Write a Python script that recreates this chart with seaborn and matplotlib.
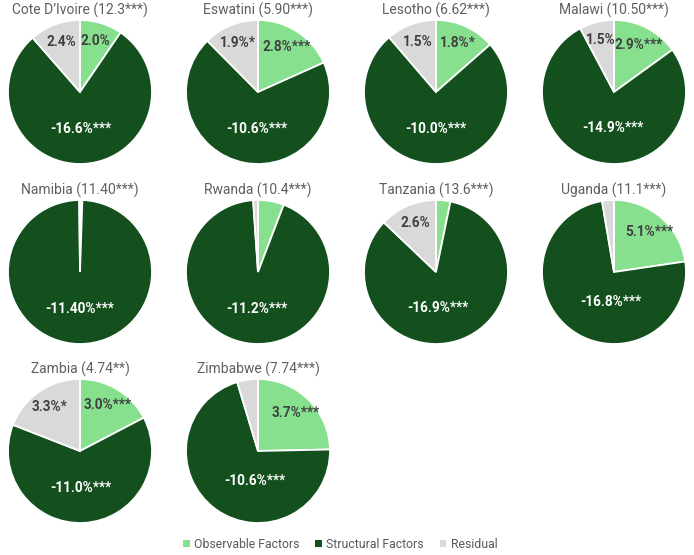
import numpy as np
import seaborn as sns
import matplotlib.pyplot as plt
from matplotlib.patches import Patch

# --- dados ---
countries = ["Cote D’Ivoire", "Eswatini", "Lesotho", "Malawi", "Namibia",
             "Rwanda", "Tanzania", "Uganda", "Zambia", "Zimbabwe"]
gap_txt = ["12.3***", "5.90***", "6.62***", "10.50***", "11.40***",
           "10.4***", "13.6***", "11.1***", "4.74**", "7.74***"]
observable = [2.0, 2.8, 1.8, 2.9, 0.06, 0.7, 0.65, 5.1, 3.0, 3.7]
structural = [16.6, 10.6, 10.0, 14.9, 11.40, 11.2, 16.9, 16.8, 11.0, 10.6]
residual = [2.4, 1.9, 1.5, 1.5, 0.02, 0.13, 2.6, 0.6, 3.3, 0.7]
obs_lbl = ["2.0%", "2.8%***", "1.8%*", "2.9%***", "", "", "", "5.1%***", "3.0%***", "3.7%***"]
str_lbl = ["-16.6%***", "-10.6%***", "-10.0%***", "-14.9%***", "-11.40%***",
           "-11.2%***", "-16.9%***", "-16.8%***", "-11.0%***", "-10.6%***"]
res_lbl = ["2.4%", "1.9%*", "1.5%", "1.5%", "", "", "2.6%", "", "3.3%*", ""]
legend_names = ["Observable Factors", "Structural Factors", "Residual"]

colors = ["#86E08E", "#13501D", "#D9D9D9"]
txt_colors = ["#404040", "white", "#404040"]

sns.set_theme(style="white")
plt.rcParams['font.family'] = ['Roboto', 'DejaVu Sans']

W, H = 694, 555
fig = plt.figure(figsize=(W / 100, H / 100), dpi=100)

col_x = [80, 258, 436, 614]
row_y = [92, 272, 451]
r_px = 72

for i, c in enumerate(countries):
    cx = col_x[i % 4]
    cy = row_y[i // 4]
    size = 2 * r_px * 1.02
    ax = fig.add_axes([(cx - size / 2) / W, 1 - (cy + size / 2) / H, size / W, size / H])
    vals = [observable[i], structural[i], residual[i]]
    wedges, _ = ax.pie(vals, colors=colors, startangle=90, counterclock=False,
                       wedgeprops=dict(edgecolor="white", linewidth=1.3))
    ax.set_xlim(-1.02, 1.02)
    ax.set_ylim(-1.02, 1.02)
    labels = [obs_lbl[i], str_lbl[i], res_lbl[i]]
    for k, (w, lab, tc) in enumerate(zip(wedges, labels, txt_colors)):
        if not lab:
            continue
        ang = np.deg2rad((w.theta1 + w.theta2) / 2)
        if k == 1:
            # rótulo da fatia grande fica quase centrado embaixo
            x, y = 0.08 * np.cos(ang), 0.52 * np.sin(ang)
        else:
            x, y = 0.74 * np.cos(ang), 0.74 * np.sin(ang)
        ax.text(x, y, lab, ha="center", va="center",
                fontsize=9.8, fontweight="bold", color=tc)
    ax.set_title(f"{c} ({gap_txt[i]})", fontsize=10, color="#5F5F5F", pad=3)

handles = [Patch(facecolor=col, edgecolor="none") for col in colors]
fig.legend(handles, legend_names, loc="lower center", bbox_to_anchor=(0.49, -0.012),
           ncol=3, frameon=False, fontsize=8.8, labelcolor="#595959",
           handlelength=0.55, handleheight=0.55, handletextpad=0.35, columnspacing=1.3)

fig.savefig("out.png", dpi=100)
